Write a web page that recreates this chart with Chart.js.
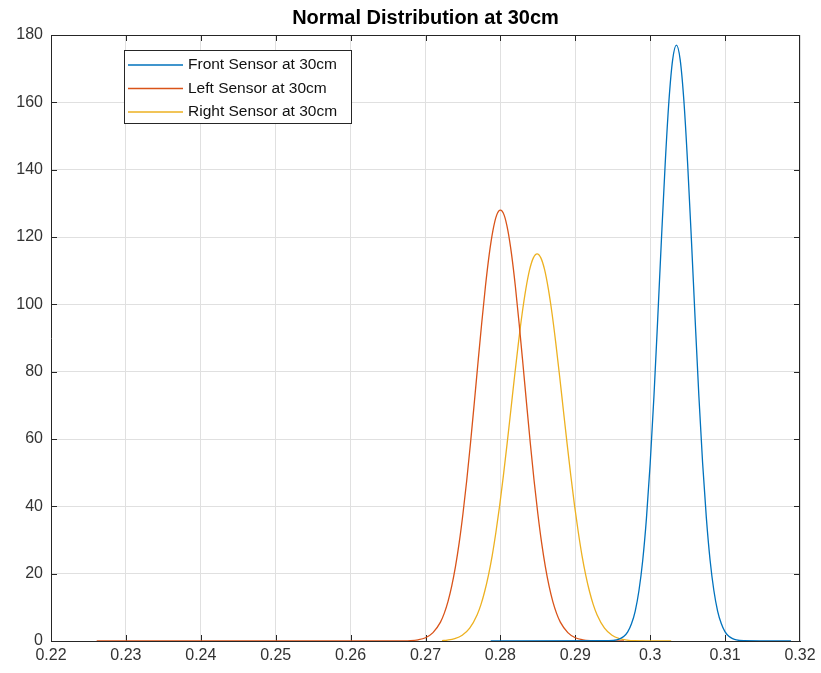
<!DOCTYPE html>
<html>
<head>
<meta charset="utf-8">
<title>Normal Distribution at 30cm</title>
<script src="https://cdn.jsdelivr.net/npm/chart.js@4.4.1/dist/chart.umd.min.js"></script>
<style>
  html, body { margin: 0; padding: 0; background: #ffffff; }
  #wrap { width: 821px; height: 673px; }
</style>
</head>
<body>
<div id="wrap"><canvas id="chart" width="821" height="673"></canvas></div>
<script>
// Probability density curves of the three sensors at 30cm
const seriesLabels = ['Front Sensor at 30cm', 'Left Sensor at 30cm', 'Right Sensor at 30cm'];
const seriesColors = ['#0072BD', '#D95319', '#EDB120'];

const frontX = [0.2787, 0.2945, 0.2955, 0.2960, 0.2965, 0.2970, 0.2975, 0.2980, 0.2985, 0.2990,
  0.2995, 0.3000, 0.3005, 0.3010, 0.3015, 0.3020, 0.3025, 0.3030, 0.3035, 0.3040,
  0.3045, 0.3050, 0.3055, 0.3060, 0.3065, 0.3070, 0.3075, 0.3080, 0.3085, 0.3090,
  0.3095, 0.3100, 0.3105, 0.3110, 0.3115, 0.3125, 0.3188];
const frontY = [0, 0.1, 0.3, 0.7, 1.4, 2.7, 5.1, 8.9, 15.0, 23.9,
  36.5, 52.8, 72.7, 95.5, 119.3, 141.7, 160.4, 172.7, 177.0, 172.7,
  160.4, 141.7, 119.3, 95.5, 72.7, 52.8, 36.5, 23.9, 15.0, 8.9,
  5.1, 2.7, 1.4, 0.7, 0.3, 0.1, 0];

const leftX = [0.2261, 0.2660, 0.2680, 0.2690, 0.2700, 0.2710, 0.2720, 0.2725, 0.2730, 0.2735,
  0.2740, 0.2745, 0.2750, 0.2755, 0.2760, 0.2765, 0.2770, 0.2775, 0.2780, 0.2785,
  0.2790, 0.2795, 0.2800, 0.2805, 0.2810, 0.2815, 0.2820, 0.2825, 0.2830, 0.2835,
  0.2840, 0.2845, 0.2850, 0.2855, 0.2860, 0.2865, 0.2870, 0.2875, 0.2880, 0.2890,
  0.2900, 0.2910, 0.2920, 0.2940, 0.2965];
const leftY = [0, 0, 0.11, 0.35, 0.97, 2.5, 5.6, 8.2, 11.7, 16.3,
  22.1, 29.2, 37.8, 47.6, 58.6, 70.4, 82.5, 94.3, 105.3, 114.7,
  121.9, 126.5, 128.0, 126.5, 121.9, 114.7, 105.3, 94.3, 82.5, 70.4,
  58.6, 47.6, 37.8, 29.2, 22.1, 16.3, 11.7, 8.2, 5.6, 2.5,
  0.97, 0.35, 0.11, 0, 0];

const rightX = [0.2722, 0.2729, 0.2739, 0.2749, 0.2759, 0.2769, 0.2774, 0.2779, 0.2784, 0.2789,
  0.2794, 0.2799, 0.2804, 0.2809, 0.2814, 0.2819, 0.2824, 0.2829, 0.2834, 0.2839,
  0.2844, 0.2849, 0.2854, 0.2859, 0.2864, 0.2869, 0.2874, 0.2879, 0.2884, 0.2889,
  0.2894, 0.2899, 0.2904, 0.2909, 0.2914, 0.2919, 0.2924, 0.2929, 0.2939, 0.2949,
  0.2959, 0.2969, 0.2979, 0.3028];
const rightY = [0.1, 0.27, 0.71, 1.7, 3.8, 7.8, 10.8, 14.7, 19.5, 25.3,
  32.3, 40.2, 49.1, 58.7, 68.7, 78.8, 88.4, 97.2, 104.6, 110.3,
  113.8, 115.0, 113.8, 110.3, 104.6, 97.2, 88.4, 78.8, 68.7, 58.7,
  49.1, 40.2, 32.3, 25.3, 19.5, 14.7, 10.8, 7.8, 3.8, 1.7,
  0.71, 0.27, 0.09, 0];

const xTickValues = [0.22, 0.23, 0.24, 0.25, 0.26, 0.27, 0.28, 0.29, 0.30, 0.31, 0.32];
const xTickLabels = ['0.22', '0.23', '0.24', '0.25', '0.26', '0.27', '0.28', '0.29', '0.3', '0.31', '0.32'];
const yTickValues = [0, 20, 40, 60, 80, 100, 120, 140, 160, 180];
const yTickLabels = ['0', '20', '40', '60', '80', '100', '120', '140', '160', '180'];

const FONT = "'Liberation Sans', Arial, Helvetica, sans-serif";
const AXIS_COLOR = '#262626';
const GRID_COLOR = '#e0e0e0';

function toPoints(xs, ys) {
  return xs.map((x, i) => ({ x: x, y: ys[i] }));
}

const seriesData = [toPoints(frontX, frontY), toPoints(leftX, leftY), toPoints(rightX, rightY)];

// Box outline on top/right plus inward tick marks on all four sides
const axesBox = {
  id: 'axesBox',
  beforeDatasetsDraw(chart) {
    const { ctx, chartArea: a, scales } = chart;
    const tick = 6;
    ctx.save();
    ctx.strokeStyle = AXIS_COLOR;
    ctx.lineWidth = 1;
    ctx.beginPath();
    ctx.moveTo(a.left, a.top + 0.5);
    ctx.lineTo(a.right, a.top + 0.5);
    ctx.moveTo(a.right - 0.5, a.top);
    ctx.lineTo(a.right - 0.5, a.bottom);
    xTickValues.forEach(v => {
      const px = Math.min(Math.round(scales.x.getPixelForValue(v)), a.right - 1) + 0.5;
      ctx.moveTo(px, a.bottom);
      ctx.lineTo(px, a.bottom - tick);
      ctx.moveTo(px, a.top);
      ctx.lineTo(px, a.top + tick);
    });
    yTickValues.forEach(v => {
      const py = Math.round(scales.y.getPixelForValue(v)) + 0.5;
      ctx.moveTo(a.left, py);
      ctx.lineTo(a.left + tick, py);
      ctx.moveTo(a.right, py);
      ctx.lineTo(a.right - tick, py);
    });
    ctx.stroke();
    ctx.restore();
  }
};

// Boxed legend in the upper-left corner of the plot
const boxedLegend = {
  id: 'boxedLegend',
  afterDraw(chart) {
    const { ctx } = chart;
    const box = { x: 124, y: 50, w: 227, h: 73 };
    const rowY = [65, 88.5, 112];
    ctx.save();
    ctx.fillStyle = '#ffffff';
    ctx.fillRect(box.x, box.y, box.w, box.h);
    ctx.strokeStyle = AXIS_COLOR;
    ctx.lineWidth = 1;
    ctx.strokeRect(box.x + 0.5, box.y + 0.5, box.w, box.h);
    ctx.font = '15.5px ' + FONT;
    ctx.textBaseline = 'middle';
    ctx.textAlign = 'left';
    chart.data.datasets.forEach((ds, i) => {
      const y = rowY[i];
      ctx.strokeStyle = ds.borderColor;
      ctx.lineWidth = 1.3;
      ctx.beginPath();
      ctx.moveTo(128, y);
      ctx.lineTo(183, y);
      ctx.stroke();
      ctx.fillStyle = '#111111';
      ctx.fillText(ds.label, 188, y);
    });
    ctx.restore();
  }
};

new Chart(document.getElementById('chart'), {
  type: 'line',
  data: {
    datasets: seriesData.map((pts, i) => ({
      label: seriesLabels[i],
      data: pts,
      borderColor: seriesColors[i],
      backgroundColor: seriesColors[i],
      borderWidth: 1.3,
      pointRadius: 0,
      fill: false,
      cubicInterpolationMode: 'monotone'
    }))
  },
  options: {
    responsive: false,
    devicePixelRatio: 1,
    animation: false,
    layout: { padding: { left: 0, right: 21, top: 0, bottom: 0 } },
    plugins: {
      legend: { display: false },
      tooltip: { enabled: false },
      title: {
        display: true,
        text: 'Normal Distribution at 30cm',
        fullSize: false,
        color: '#000000',
        font: { family: FONT, size: 20, weight: 'bold' },
        padding: { top: 6, bottom: 5 }
      }
    },
    scales: {
      x: {
        type: 'linear',
        min: 0.22,
        max: 0.32,
        afterBuildTicks: s => { s.ticks = xTickValues.map(v => ({ value: v })); },
        afterFit: s => { s.height = 32; },
        ticks: {
          callback: (v, i) => xTickLabels[i],
          color: '#333333',
          font: { family: FONT, size: 16 },
          padding: 5,
          maxRotation: 0,
          autoSkip: false
        },
        grid: { color: GRID_COLOR, drawTicks: false },
        border: { display: true, color: AXIS_COLOR, width: 1 }
      },
      y: {
        type: 'linear',
        min: 0,
        max: 180,
        afterBuildTicks: s => { s.ticks = yTickValues.map(v => ({ value: v })); },
        afterFit: s => { s.width = 51; },
        ticks: {
          callback: (v, i) => yTickLabels[i],
          color: '#333333',
          font: { family: FONT, size: 16 },
          padding: 8,
          autoSkip: false
        },
        grid: { color: GRID_COLOR, drawTicks: false },
        border: { display: true, color: AXIS_COLOR, width: 1 }
      }
    }
  },
  plugins: [axesBox, boxedLegend]
});
</script>
</body>
</html>
